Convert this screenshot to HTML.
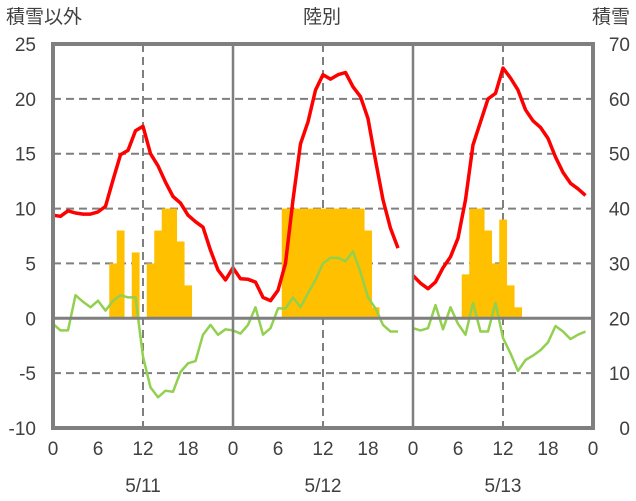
<!DOCTYPE html>
<html><head><meta charset="utf-8">
<style>
html,body{margin:0;padding:0;background:#fff;}
svg{display:block;font-family:"Liberation Sans","Noto Sans CJK JP",sans-serif;}
</style></head>
<body>
<svg id="chart" width="636" height="501" viewBox="0 0 636 501">
<g id="grid"></g>
<g id="bars"></g>
<g id="lines"></g>
<g id="frame"></g>
<g id="labels"></g>
<text x="6" y="23" font-size="19" fill="#404040">積雪以外</text>
<text x="322" y="23" font-size="19" fill="#404040" text-anchor="middle">陸別</text>
<text x="630" y="23" font-size="19" fill="#404040" text-anchor="end">積雪</text>
</svg>
<script>
const leftTicks=[25,20,15,10,5,0,-5,-10];
const rightTicks=[70,60,50,40,30,20,10,0];
const hourTicks=["0","6","12","18"];
const dates=["5/11","5/12","5/13"];
const tempMax=[
9.4,9.3,9.8,9.6,9.5,9.5,9.7,10.2,12.6,14.9,15.3,17.1,17.5,15.0,13.9,12.4,11.1,10.5,9.4,8.8,8.3,6.2,4.4,3.5,
4.6,3.6,3.55,3.3,1.9,1.6,2.55,5.0,10.8,15.9,17.9,20.8,22.2,21.8,22.2,22.4,21.1,20.2,18.2,14.4,10.8,8.2,6.4,null,
3.9,3.2,2.7,3.3,4.6,5.6,7.3,10.8,15.8,17.9,20.0,20.5,22.8,21.9,20.8,19.0,18.0,17.4,16.4,14.7,13.3,12.3,11.8,11.2];
const tempMin=[
-0.5,-1.1,-1.1,2.1,1.5,1.0,1.6,0.7,1.6,2.1,1.9,1.9,-3.5,-6.3,-7.2,-6.6,-6.7,-4.9,-4.1,-3.9,-1.5,-0.6,-1.5,-1.0,
-1.1,-1.4,-0.6,1.0,-1.5,-0.9,0.9,0.9,1.9,1.0,2.3,3.5,5.0,5.5,5.5,5.2,6.1,4.2,1.9,0.9,-0.6,-1.2,-1.2,null,
-0.9,-1.1,-0.9,1.2,-1.0,1.0,-0.5,-1.5,1.4,-1.2,-1.2,1.4,-1.8,-3.2,-4.8,-3.8,-3.4,-2.9,-2.2,-0.7,-1.2,-1.9,-1.5,-1.2];
const snow=[
0,0,0,0,0,0,0,0,5,8,0,6,0,5,8,10,10,7,3,0,0,0,0,0,
0,0,0,0,0,0,0,10,10,10,10,10,10,10,10,10,10,10,8,1,0,0,0,0,
0,0,0,0,0,0,0,4,10,10,8,5,9,3,1,0,0,0,0,0,0,0,0,0];

const NS="http://www.w3.org/2000/svg";
const X0=53,X1=593,YT=44,YB=428;
const xs=h=>X0+(X1-X0)*h/72;
const yl=v=>YT+(25-v)*(YB-YT)/35;
const yr=v=>YT+(70-v)*(YB-YT)/70;
function mk(p,tag,a){const e=document.createElementNS(NS,tag);for(const k in a)e.setAttribute(k,a[k]);document.getElementById(p).appendChild(e);return e;}

// grid
leftTicks.forEach(v=>{
  if(v===25||v===-10||v===0)return;
  const l=mk('grid','line',{x1:X0,x2:X1,y1:yl(v),y2:yl(v),stroke:'#7f7f7f','stroke-width':2,'stroke-dasharray':'8,5'});
  
  
});
dates.forEach((d,i)=>{
  const l=mk('grid','line',{x1:xs(i*24+12),x2:xs(i*24+12),y1:YT,y2:YB,stroke:'#7f7f7f','stroke-width':2,'stroke-dasharray':'8,5'});
  
  
});
// bars
const bw=(X1-X0)/72;
snow.forEach((v,i)=>{
  if(!v)return;
  const r=mk('bars','rect',{x:xs(i)-bw/2,y:yl(v),width:bw+0.3,height:yl(0)-yl(v),fill:'#ffc000'});
  
  
});
// frame
const fr=mk('frame','rect',{x:X0,y:YT,width:X1-X0,height:YB-YT,fill:'none',stroke:'#7f7f7f','stroke-width':4});


[1,2].forEach(i=>{
  const l=mk('frame','line',{x1:xs(i*24),x2:xs(i*24),y1:YT,y2:YB,stroke:'#7f7f7f','stroke-width':2.5});
  
  
});
const z=mk('frame','line',{x1:X0,x2:X1,y1:yl(0),y2:yl(0),stroke:'#7f7f7f','stroke-width':3});


// lines
function path(arr){let d='',pen=false;arr.forEach((v,i)=>{if(v==null){pen=false;return;}d+=(pen?'L':'M')+xs(i).toFixed(1)+','+yl(v).toFixed(1);pen=true;});return d;}
const gl=mk('lines','path',{d:path(tempMin),fill:'none',stroke:'#92d050','stroke-width':2.5,'stroke-linejoin':'round'});


const rl=mk('lines','path',{d:path(tempMax),fill:'none',stroke:'#ff0000','stroke-width':3.5,'stroke-linejoin':'round'});


// labels
leftTicks.forEach(v=>{
  const t=mk('labels','text',{x:36,y:yl(v)+7,'font-size':19,fill:'#404040','text-anchor':'end'});
  t.textContent=v;
  
  
});
rightTicks.forEach(v=>{
  const t=mk('labels','text',{x:630,y:yr(v)+7,'font-size':19,fill:'#404040','text-anchor':'end'});
  t.textContent=v;
  
  
});
dates.forEach((d,i)=>{
  hourTicks.forEach((h,j)=>{
    const t=mk('labels','text',{x:xs(i*24+j*6),y:455,'font-size':19,fill:'#404040','text-anchor':'middle'});
    t.textContent=h;
    
    
  });
  const t=mk('labels','text',{x:xs(i*24+12),y:492,'font-size':19,fill:'#404040','text-anchor':'middle'});
  t.textContent=d;
  
  
});
const t0=mk('labels','text',{x:X1,y:455,'font-size':19,fill:'#404040','text-anchor':'middle'});
t0.textContent='0';


</script>
</body></html>
